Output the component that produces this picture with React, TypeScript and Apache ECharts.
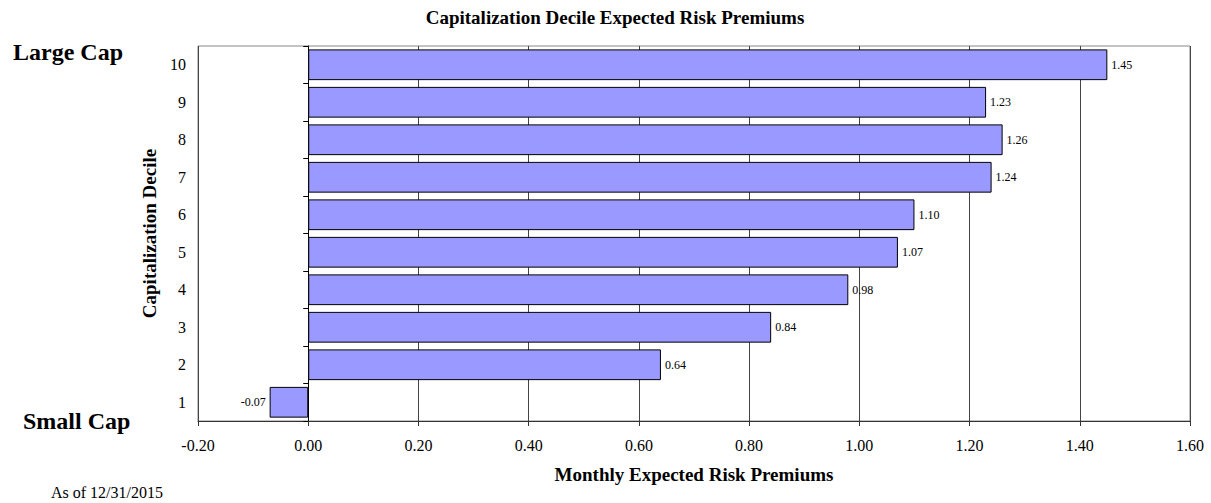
import React, { useEffect, useRef } from "react";
import * as echarts from "echarts";

// Capitalization deciles, smallest (1) at the bottom, largest (10) at the top
const deciles = ["1", "2", "3", "4", "5", "6", "7", "8", "9", "10"];
// Monthly expected risk premiums per decile (%)
const premiums = [-0.07, 0.64, 0.84, 0.98, 1.07, 1.1, 1.24, 1.26, 1.23, 1.45];
// Value axis range and step
const xMin = -0.2;
const xMax = 1.6;
const xStep = 0.2;

const FONT = "'Liberation Serif', 'Times New Roman', serif";

export default function App() {
  const ref = useRef<HTMLDivElement>(null);

  useEffect(() => {
    if (!ref.current) return;
    const chart = echarts.init(ref.current, null, { renderer: "svg" });

    const W = 1211;
    const H = 503;
    const gridLeft = 198;
    const gridRight = 21;
    const gridTop = 46;
    const gridBottom = 82;
    const plotW = W - gridLeft - gridRight;
    // horizontal position of the zero value, where the category axis crosses
    const zeroX = gridLeft + ((0 - xMin) / (xMax - xMin)) * plotW;

    chart.setOption({
      animation: false,
      backgroundColor: "#ffffff",
      textStyle: { fontFamily: FONT, color: "#000" },
      title: {
        text: "Capitalization Decile Expected Risk Premiums",
        left: 610,
        top: 3,
        textAlign: "center",
        textStyle: { fontFamily: FONT, fontSize: 19, fontWeight: "bold", color: "#000" },
      },
      graphic: [
        {
          type: "text",
          x: 13,
          y: 52,
          style: {
            text: "Large Cap",
            font: `bold 24px ${FONT}`,
            fill: "#000",
            align: "left",
            verticalAlign: "middle",
          },
        },
        {
          type: "text",
          x: 23,
          y: 421,
          style: {
            text: "Small Cap",
            font: `bold 24px ${FONT}`,
            fill: "#000",
            align: "left",
            verticalAlign: "middle",
          },
        },
        {
          type: "text",
          x: 51,
          y: 492,
          style: {
            text: "As of 12/31/2015",
            font: `16px ${FONT}`,
            fill: "#000",
            align: "left",
            verticalAlign: "middle",
          },
        },
        {
          type: "rect",
          shape: { x: gridLeft, y: gridTop, width: plotW, height: H - gridTop - gridBottom },
          style: { fill: "none", stroke: "#888", lineWidth: 1 },
          silent: true,
          z: 0,
        },
      ],
      grid: { left: gridLeft, right: gridRight, top: gridTop, bottom: gridBottom, containLabel: false },
      xAxis: {
        type: "value",
        min: xMin,
        max: xMax,
        interval: xStep,
        name: "Monthly Expected Risk Premiums",
        nameLocation: "middle",
        nameGap: 44,
        nameTextStyle: { fontFamily: FONT, fontSize: 19, fontWeight: "bold", color: "#000" },
        axisLine: { show: true, onZero: false, lineStyle: { color: "#333", width: 1 } },
        axisTick: { show: true, length: 5, lineStyle: { color: "#333" } },
        axisLabel: {
          fontFamily: FONT,
          fontSize: 16,
          color: "#000",
          margin: 16,
          formatter: (v: number) => v.toFixed(2),
        },
        splitLine: { show: true, lineStyle: { color: "#444", width: 1 } },
      },
      yAxis: [
        {
          type: "category",
          data: deciles,
          name: "Capitalization Decile",
          nameLocation: "middle",
          nameGap: 38,
          nameRotate: 90,
          nameTextStyle: { fontFamily: FONT, fontSize: 19, fontWeight: "bold", color: "#000" },
          axisLine: { show: false, onZero: false },
          axisTick: { show: false },
          axisLabel: { fontFamily: FONT, fontSize: 16, color: "#000", margin: 12 },
        },
        {
          // category axis line drawn through the zero value, ticks pointing left
          type: "category",
          data: deciles,
          position: "right",
          offset: -(W - gridRight - zeroX),
          axisLine: { show: true, onZero: false, lineStyle: { color: "#000", width: 1 } },
          axisTick: { show: true, inside: true, length: 5, lineStyle: { color: "#000" } },
          axisLabel: { show: false },
        },
      ],
      series: [
        {
          type: "bar",
          yAxisIndex: 0,
          data: premiums.map((v) => ({
            value: v,
            label: { position: v < 0 ? "left" : "right" },
          })),
          barWidth: "82%",
          itemStyle: { color: "#9999FF", borderColor: "#000", borderWidth: 1 },
          label: {
            show: true,
            distance: 4,
            fontFamily: FONT,
            fontSize: 12,
            color: "#000",
            formatter: (p: any) => Number(p.value).toFixed(2),
          },
          z: 3,
        },
      ],
    });

    return () => chart.dispose();
  }, []);

  return (
    <div
      ref={ref}
      style={{ position: "fixed", left: 0, top: 0, width: 1211, height: 503, background: "#fff" }}
    />
  );
}
